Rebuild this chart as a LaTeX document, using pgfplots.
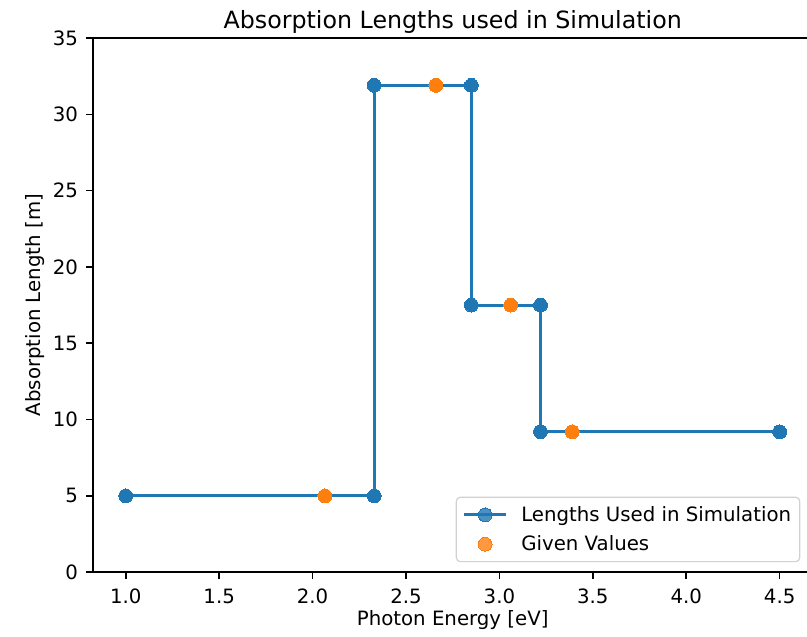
\documentclass[border=0pt]{standalone}
\usepackage{pgfplots}
\pgfplotsset{compat=1.18}
\usepackage{fontspec}
\setmainfont{DejaVu Sans}
\definecolor{mplblue}{HTML}{1F77B4}
\definecolor{mplorange}{HTML}{FF7F0E}

% step profile of the absorption length (energy in eV, length in m)
\pgfplotstableread{
E     L
1.00  5.0
2.33  5.0
2.33  31.9
2.85  31.9
2.85  17.5
3.22  17.5
3.22  9.2
4.50  9.2
}\simlengths

% measured values
\pgfplotstableread{
E     L
2.066 5.0
2.66  31.9
3.06  17.5
3.39  9.2
}\givenvalues

\begin{document}
\begin{tikzpicture}
\path[use as bounding box, clip] (-69.75pt,-48pt) rectangle (535.25pt,429pt);
\begin{axis}[
  at={(0,0)}, anchor=south west,
  scale only axis, width=539.25pt, height=400.5pt,
  xmin=0.825, xmax=4.675, ymin=0, ymax=35,
  xtick={1.0,1.5,2.0,2.5,3.0,3.5,4.0,4.5},
  ytick={0,5,10,15,20,25,30,35},
  /pgf/number format/assume math mode=true,
  tick align=outside, xtick pos=bottom, ytick pos=left,
  major tick length=5.25pt,
  every tick/.style={black, line width=1.2pt},
  axis line style={line width=1.2pt},
  tick label style={font=\fontsize{14.8}{17.8}\selectfont},
  xticklabel style={/pgf/number format/fixed, /pgf/number format/fixed zerofill,
    /pgf/number format/precision=1, anchor=north, yshift=-4pt},
  yticklabel style={xshift=-2.5pt},
  label style={font=\fontsize{14.8}{17.8}\selectfont},
  title style={font=\fontsize{17.8}{21.4}\selectfont, at={(axis description cs:0.5,1)}, anchor=base, yshift=1.5pt},
  title={Absorption Lengths used in Simulation},
  xlabel={Photon Energy [eV]},
  xlabel style={at={(axis description cs:0.5,0)}, anchor=base, yshift=-39.75pt},
  ylabel={Absorption Length [m]},
  ylabel style={at={(axis description cs:-0.0725,0.5)}, anchor=base, rotate=0},
  legend style={font=\fontsize{14.8}{17.8}\selectfont, draw=black!18, line width=0.9pt,
    rounded corners=3pt, fill=white, fill opacity=0.8, text opacity=1,
    at={(axis description cs:1,0)}, anchor=south east, xshift=-9pt, yshift=7.5pt,
    inner xsep=4.5pt, inner ysep=4.75pt, row sep=5.25pt},
  legend cell align=left,
  legend image code/.code={\draw[mark repeat=2, mark phase=2, #1] plot coordinates {(0pt,0pt) (16pt,0pt) (32pt,0pt)};
    \path (40pt,0pt);},
]
\addplot[mplblue, line width=2.2pt, mark=*, mark size=5.2pt,
  mark options={solid, fill=mplblue, draw=mplblue, line width=0pt}]
  table[x=E, y=L] {\simlengths};
\addlegendentry{Lengths Used in Simulation}
\addplot[only marks, mark=*, mark size=5.2pt, color=mplorange,
  mark options={fill=mplorange, draw=mplorange, line width=0pt}]
  table[x=E, y=L] {\givenvalues};
\addlegendentry{Given Values}
\end{axis}
\end{tikzpicture}
\end{document}
